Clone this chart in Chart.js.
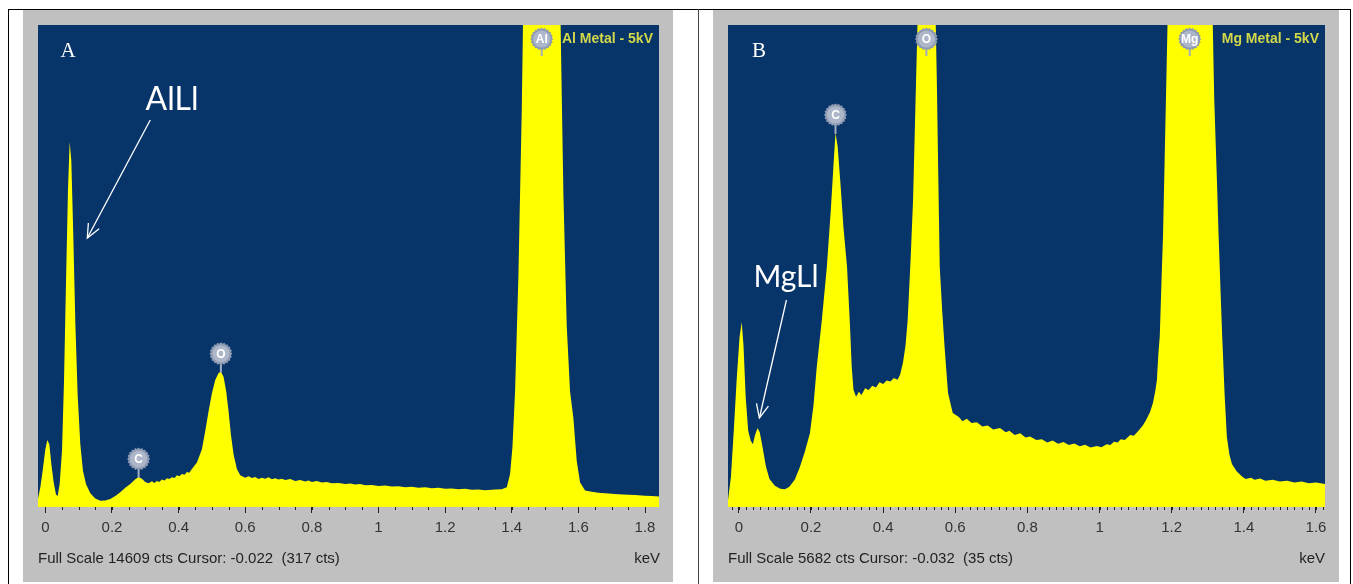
<!DOCTYPE html>
<html><head><meta charset="utf-8">
<script src="https://cdn.jsdelivr.net/npm/chart.js@4"></script>
<style>
body{margin:0;background:#fff;width:1353px;height:584px;overflow:hidden;position:relative;font-family:"Liberation Sans",Arial,sans-serif}
.ln{position:absolute;background:#000}
.panel{position:absolute;background:#c0c0c0}
.panel canvas{position:absolute;left:0;top:0}
.t{position:absolute;white-space:nowrap;line-height:1}
.c{transform:translate(-50%,-50%)}
.r{transform:translate(-100%,-50%)}
.l{transform:translate(0,-50%)}
.big{font-family:Lato,"Open Sans",sans-serif;font-size:30px;color:#fff}
.let{font-family:"Liberation Serif",serif;font-size:21px;color:#fff}
.foot{font-size:15px;color:#222}
.title{font-size:14px;font-weight:bold;color:#d2d84a}
</style></head>
<body>
<div class="ln" style="left:8px;top:9px;width:1343px;height:1px"></div>
<div class="ln" style="left:8px;top:9px;width:1px;height:575px"></div>
<div class="ln" style="left:698px;top:9px;width:1px;height:575px;background:#444"></div>
<div class="ln" style="left:1350px;top:9px;width:1px;height:575px"></div>

<div class="panel" style="left:23px;top:10px;width:650px;height:572px"><canvas id="chartA" width="650" height="572"></canvas></div>
<div class="panel" style="left:713px;top:10px;width:626px;height:572px"><canvas id="chartB" width="626" height="572"></canvas></div>

<div class="t c let" style="left:68px;top:50px">A</div>
<div class="t c let" style="left:759px;top:50px">B</div>
<div class="t c big" style="left:172px;top:98px;font-size:32px">AlLl</div>
<div class="t c big" style="left:786px;top:275px">MgLl</div>
<div class="t r title" style="left:653px;top:38px">Al Metal - 5kV</div>
<div class="t r title" style="left:1319px;top:38px">Mg Metal - 5kV</div>
<div class="t l foot" style="left:38px;top:557px">Full Scale 14609 cts Cursor: -0.022&nbsp; (317 cts)</div>
<div class="t r foot" style="left:660px;top:557px">keV</div>
<div class="t l foot" style="left:728px;top:557px">Full Scale 5682 cts Cursor: -0.032&nbsp; (35 cts)</div>
<div class="t r foot" style="left:1325px;top:557px">keV</div>

<script>
// ---- Panel A (Al metal, 5 kV) ----
const energyA = [-0.022,-0.015,-0.008,0.000,0.006,0.012,0.018,0.025,0.032,0.037,0.043,0.05,0.056,0.062,0.068,0.073,0.078,0.084,0.09,0.097,0.105,0.113,0.122,0.135,0.15,0.165,0.18,0.195,0.21,0.225,0.24,0.255,0.27,0.28,0.29,0.3,0.31,0.32,0.327,0.335,0.342,0.35,0.358,0.365,0.372,0.38,0.388,0.395,0.402,0.41,0.418,0.425,0.432,0.44,0.455,0.47,0.48,0.49,0.5,0.51,0.52,0.527,0.535,0.543,0.55,0.557,0.565,0.575,0.585,0.6,0.61,0.62,0.63,0.64,0.65,0.66,0.67,0.68,0.69,0.7,0.71,0.72,0.735,0.75,0.765,0.78,0.79,0.8,0.815,0.83,0.845,0.86,0.88,0.9,0.915,0.93,0.945,0.96,0.98,1.0,1.02,1.04,1.06,1.08,1.1,1.12,1.14,1.16,1.18,1.2,1.22,1.24,1.26,1.28,1.3,1.32,1.34,1.35,1.37,1.385,1.395,1.402,1.41,1.42,1.43,1.44,1.46,1.49,1.52,1.535,1.546,1.555,1.565,1.575,1.585,1.595,1.605,1.62,1.64,1.66,1.68,1.7,1.72,1.75,1.77,1.8,1.82,1.842];
const countsA = [250,600,1100,1750,2030,1900,1300,750,380,330,700,1700,3800,6800,9600,11060,10500,8200,5600,3400,1900,1100,700,420,260,190,200,240,330,450,580,700,840,910,860,760,720,780,730,790,760,830,800,870,850,900,880,960,930,1000,980,1060,1040,1150,1350,1750,2300,2900,3450,3850,4060,4100,3950,3500,2900,2200,1600,1150,960,890,930,880,910,850,890,860,900,840,870,830,860,820,850,790,820,770,800,760,790,740,760,720,730,700,710,680,700,660,670,640,650,620,630,600,610,580,600,570,580,550,560,540,550,520,530,505,520,530,540,600,1000,1800,3500,7000,12000,19000,30000,36000,30000,21000,15000,9500,5500,3500,2700,1400,750,500,460,430,420,400,390,370,360,340,330,320];
const fullScaleA = 14609;
const rangeA = [-0.022, 1.842];
const tickLabelsA = [0,0.2,0.4,0.6,0.8,1,1.2,1.4,1.6,1.8];
const markerNamesA = ['C','O','Al'];
const markerKeVA = [0.28,0.527,1.49];
const markerCountsA = [910,4100,36000];
const arrowA = [[0.315,11730],[0.126,8153]];

// ---- Panel B (Mg metal, 5 kV) ----
const energyB = [-0.03,-0.022,-0.014,-0.006,0.002,0.008,0.013,0.019,0.026,0.033,0.039,0.045,0.052,0.058,0.066,0.075,0.085,0.1,0.115,0.128,0.14,0.155,0.169,0.183,0.197,0.207,0.216,0.23,0.244,0.255,0.262,0.268,0.274,0.282,0.29,0.3,0.308,0.313,0.318,0.325,0.333,0.34,0.35,0.36,0.37,0.38,0.39,0.4,0.41,0.42,0.43,0.44,0.447,0.455,0.462,0.468,0.476,0.483,0.49,0.496,0.505,0.52,0.535,0.545,0.549,0.553,0.557,0.564,0.571,0.58,0.593,0.61,0.62,0.632,0.645,0.66,0.675,0.69,0.705,0.724,0.74,0.75,0.765,0.78,0.795,0.807,0.825,0.84,0.855,0.87,0.885,0.9,0.915,0.93,0.945,0.96,0.975,0.993,1.005,1.02,1.03,1.04,1.05,1.059,1.07,1.085,1.095,1.106,1.12,1.129,1.14,1.148,1.155,1.159,1.163,1.167,1.172,1.176,1.18,1.184,1.19,1.21,1.25,1.29,1.31,1.318,1.325,1.33,1.335,1.34,1.347,1.353,1.36,1.367,1.38,1.395,1.405,1.42,1.43,1.445,1.46,1.48,1.5,1.52,1.54,1.56,1.58,1.6,1.625];
const countsB = [80,350,900,1500,2000,2180,1900,1300,900,780,740,850,930,880,700,480,330,250,215,210,240,320,470,650,870,1200,1650,2200,2830,3500,4000,4410,4250,3800,3300,2830,2150,1650,1380,1300,1360,1320,1400,1380,1430,1410,1470,1450,1490,1480,1520,1500,1560,1700,1900,2200,2900,3620,4800,5800,7500,9000,7500,5900,5000,3900,2830,2300,1850,1344,1108,1060,1010,1040,990,1000,950,960,915,930,880,900,850,870,820,830,790,800,760,785,745,765,730,750,715,735,700,720,705,740,730,770,760,800,790,850,840,890,960,1025,1120,1225,1380,1497,1800,2016,2700,3207,4000,4800,6000,9000,11000,9000,6500,4800,3900,3207,2600,2016,1300,825,620,507,420,360,330,345,320,335,310,320,300,310,290,300,280,290,270];
const fullScaleB = 5682;
const rangeB = [-0.03, 1.625];
const tickLabelsB = [0,0.2,0.4,0.6,0.8,1,1.2,1.4,1.6];
const markerNamesB = ['C','O','Mg'];
const markerKeVB = [0.268,0.52,1.25];
const markerCountsB = [4410,9000,11000];
const arrowB = [[0.132,2440],[0.057,1049]];

const PLOT_BG = '#07356a';
const SPEC = '#ffff00';

function drawMarker(ctx, cx, cy, name){
  ctx.save();
  ctx.beginPath();
  const n = 40;
  for(let k=0;k<=n;k++){
    const ang = k/n*Math.PI*2;
    const r = (k%2) ? 10.2 : 11.5;
    const px = cx + r*Math.cos(ang), py = cy + r*Math.sin(ang);
    if(k===0) ctx.moveTo(px,py); else ctx.lineTo(px,py);
  }
  ctx.closePath();
  ctx.fillStyle = '#8f9bb3';
  ctx.fill();
  ctx.beginPath(); ctx.arc(cx,cy,8.6,0,Math.PI*2);
  ctx.fillStyle = '#aeb7ca'; ctx.fill();
  ctx.fillStyle = '#ffffff';
  ctx.font = 'bold 12px "Liberation Sans", Arial, sans-serif';
  ctx.textAlign = 'center'; ctx.textBaseline = 'middle';
  ctx.fillText(name, cx, cy+0.5);
  ctx.restore();
}

const decoPlugin = {
  id: 'deco',
  beforeDraw(chart, args, o){
    const {ctx, chartArea:a} = chart;
    ctx.save(); ctx.fillStyle = PLOT_BG;
    ctx.fillRect(a.left, a.top, a.right-a.left, a.bottom-a.top);
    ctx.restore();
  },
  afterDraw(chart, args, o){
    const {ctx, chartArea:a, scales:{x, y}} = chart;
    ctx.save();
    ctx.strokeStyle = '#222'; ctx.lineWidth = 1;
    const st = o.minor;
    for(let i=Math.ceil(x.min/st); i*st <= x.max+1e-9; i++){
      const px = Math.round(x.getPixelForValue(i*st)) + 0.5;
      ctx.beginPath(); ctx.moveTo(px, a.bottom); ctx.lineTo(px, a.bottom+3); ctx.stroke();
    }
    o.names.forEach((nm, i) => {
      const px = x.getPixelForValue(o.keV[i]);
      const peakY = y.getPixelForValue(o.counts[i]);
      let cy, stemEnd;
      if(peakY < a.top + 32){ cy = a.top + 14; stemEnd = cy + 17; }
      else { cy = peakY - 18; stemEnd = peakY + 1; }
      ctx.strokeStyle = '#a3adc2'; ctx.lineWidth = 2;
      ctx.beginPath(); ctx.moveTo(px, cy+9); ctx.lineTo(px, stemEnd); ctx.stroke();
      drawMarker(ctx, px, cy, nm);
    });
    const [p0, p1] = o.arrow;
    const x0 = x.getPixelForValue(p0[0]), y0 = y.getPixelForValue(p0[1]);
    const x1 = x.getPixelForValue(p1[0]), y1 = y.getPixelForValue(p1[1]);
    ctx.strokeStyle = '#ffffff'; ctx.lineWidth = 1.3;
    ctx.beginPath(); ctx.moveTo(x0,y0); ctx.lineTo(x1,y1); ctx.stroke();
    const ang = Math.atan2(y0-y1, x0-x1);
    const hl = 15, hw = 0.42;
    ctx.beginPath();
    ctx.moveTo(x1 + hl*Math.cos(ang+hw), y1 + hl*Math.sin(ang+hw));
    ctx.lineTo(x1, y1);
    ctx.lineTo(x1 + hl*Math.cos(ang-hw), y1 + hl*Math.sin(ang-hw));
    ctx.stroke();
    ctx.restore();
  }
};

function makeChart(id, energy, counts, fs, range, ticksList, deco){
  return new Chart(document.getElementById(id), {
    type: 'line',
    data: { datasets: [{
      data: energy.map((e,i) => ({x:e, y:counts[i]})),
      borderWidth: 0, borderColor: SPEC, backgroundColor: SPEC,
      fill: 'origin', pointRadius: 0, tension: 0
    }]},
    options: {
      responsive: false, animation: false, events: [],
      layout: { padding: { left: 15, right: 14, top: 15, bottom: 0 } },
      scales: {
        x: {
          type: 'linear', min: range[0], max: range[1],
          afterBuildTicks: s => { s.ticks = ticksList.map(v => ({value: v})); },
          afterFit: s => { s.height = 75; },
          grid: { drawOnChartArea: false, drawTicks: true, tickLength: 6, tickColor: '#222', tickWidth: 1 },
          border: { display: false },
          ticks: { padding: 6, color: '#333', autoSkip: false, maxRotation: 0,
                   font: { family: '"Liberation Sans", Arial, sans-serif', size: 15 },
                   callback: v => String(v) }
        },
        y: { display: false, min: 0, max: fs }
      },
      plugins: { legend: { display: false }, tooltip: { enabled: false }, deco: deco }
    },
    plugins: [decoPlugin]
  });
}

makeChart('chartA', energyA, countsA, fullScaleA, rangeA, tickLabelsA,
  { minor: 0.05, names: markerNamesA, keV: markerKeVA, counts: markerCountsA, arrow: arrowA });
makeChart('chartB', energyB, countsB, fullScaleB, rangeB, tickLabelsB,
  { minor: 0.02, names: markerNamesB, keV: markerKeVB, counts: markerCountsB, arrow: arrowB });
</script>
</body></html>
